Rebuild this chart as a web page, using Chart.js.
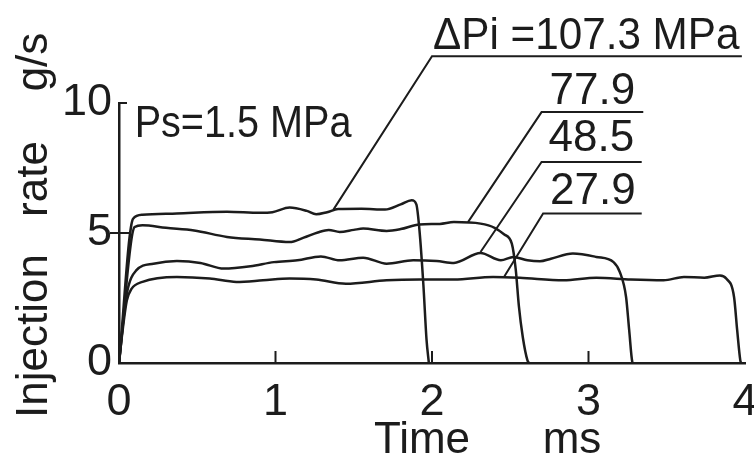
<!DOCTYPE html>
<html>
<head>
<meta charset="utf-8">
<script src="https://cdn.jsdelivr.net/npm/chart.js@4.4.0/dist/chart.umd.min.js"></script>
<style>
  body { margin: 0; background: #fff; }
  #wrap { width: 754px; height: 460px; }
</style>
</head>
<body>
<div id="wrap"><canvas id="rateChart"></canvas></div>
<script>
// injection rate traces (time in ms, rate in g/s)
const timeA = [0, 0.09, 0.15, 0.37, 0.69, 0.9, 0.98, 1.09, 1.2, 1.26, 1.33, 1.4, 1.55, 1.7, 1.8, 1.87, 1.9, 1.92, 1.945, 1.965, 1.98];
const rateA = [0, 5.55, 5.7, 5.75, 5.82, 5.78, 5.8, 5.98, 5.85, 5.72, 5.8, 5.92, 5.93, 5.9, 6.1, 6.26, 6.1, 5.1, 3.0, 0.9, 0];

const timeB = [0, 0.1, 0.15, 0.3, 0.48, 0.69, 0.9, 1.09, 1.18, 1.27, 1.34, 1.41, 1.5, 1.56, 1.71, 1.8, 1.92, 2.05, 2.14, 2.31, 2.4, 2.46, 2.51, 2.535, 2.555, 2.58, 2.61, 2.62];
const rateB = [0, 5.23, 5.3, 5.2, 5.1, 4.85, 4.75, 4.65, 4.82, 5.02, 5.12, 5.04, 5.12, 5.17, 5.08, 5.15, 5.33, 5.35, 5.42, 5.36, 5.2, 4.95, 4.59, 3.6, 2.2, 1.0, 0.1, 0];

const timeC = [0, 0.02, 0.05, 0.11, 0.22, 0.37, 0.52, 0.67, 0.84, 0.99, 1.14, 1.29, 1.41, 1.56, 1.71, 1.88, 2.03, 2.14, 2.31, 2.44, 2.52, 2.61, 2.69, 2.76, 2.9, 3.05, 3.16, 3.2, 3.24, 3.26, 3.28, 3.285];
const rateC = [0, 1.2, 2.67, 3.56, 3.82, 3.92, 3.85, 3.63, 3.72, 3.88, 3.95, 4.1, 3.95, 4.05, 3.82, 3.95, 3.92, 3.85, 4.23, 3.95, 4.08, 3.95, 3.91, 4.01, 4.21, 4.08, 3.88, 3.5, 2.54, 1.26, 0.04, 0];

const timeD = [0, 0.02, 0.05, 0.08, 0.15, 0.37, 0.58, 0.75, 0.92, 1.09, 1.26, 1.45, 1.71, 1.92, 2.14, 2.39, 2.56, 2.84, 3.05, 3.27, 3.48, 3.61, 3.74, 3.84, 3.88, 3.93, 3.95, 3.97, 3.975];
const rateD = [0, 1.1, 2.4, 2.85, 3.12, 3.31, 3.25, 3.12, 3.18, 3.25, 3.21, 3.05, 3.18, 3.21, 3.21, 3.31, 3.28, 3.18, 3.28, 3.21, 3.18, 3.31, 3.28, 3.37, 3.25, 2.54, 1.26, 0.1, 0];

const seriesNames = ['ΔPi =107.3 MPa', '77.9', '48.5', '27.9'];
const xTicks = [0, 1, 2, 3, 4];
const yTicks = [0, 5, 10];

// callouts: underline level / span and where the leader meets the trace (data units)
const callouts = [
  { text: seriesNames[0], level: 11.8, from: 2.0, to: 3.98, t: 1.37, r: 5.9, dx: 1, gap: 7, sx: 0.96 },
  { text: seriesNames[1], level: 9.65, from: 2.7, to: 3.35, t: 2.23, r: 5.42, dx: 8, gap: 8, sx: 1 },
  { text: seriesNames[2], level: 7.73, from: 2.7, to: 3.34, t: 2.31, r: 4.27, dx: 7, gap: 11, sx: 1 },
  { text: seriesNames[3], level: 5.75, from: 2.71, to: 3.34, t: 2.46, r: 3.31, dx: 7, gap: 10, sx: 1 }
];

const ink = '#1c1c1c';
const font = 'Liberation Sans, Arial, sans-serif';

function points(ts, rs) {
  return ts.map((t, i) => ({ x: t, y: rs[i] }));
}

const extras = {
  id: 'extras',
  afterDraw(chart) {
    const ctx = chart.ctx;
    const xs = chart.scales.x;
    const ys = chart.scales.y;
    const area = chart.chartArea;
    ctx.save();
    ctx.strokeStyle = ink;
    ctx.fillStyle = ink;
    ctx.lineWidth = 2;

    // little tick marks
    ctx.beginPath();
    [1, 2, 3].forEach(v => {
      const px = xs.getPixelForValue(v);
      ctx.moveTo(px, area.bottom);
      ctx.lineTo(px, area.bottom - 12);
    });
    let py = ys.getPixelForValue(5);
    ctx.moveTo(area.left - 9, py);
    ctx.lineTo(area.left + 12, py);
    py = ys.getPixelForValue(10);
    ctx.moveTo(area.left, py);
    ctx.lineTo(area.left + 8, py);
    ctx.stroke();

    // callouts
    ctx.font = '44px ' + font;
    ctx.textAlign = 'left';
    ctx.textBaseline = 'alphabetic';
    callouts.forEach(c => {
      const x0 = xs.getPixelForValue(c.from);
      const x1 = xs.getPixelForValue(c.to);
      const yl = ys.getPixelForValue(c.level);
      ctx.beginPath();
      ctx.moveTo(xs.getPixelForValue(c.t), ys.getPixelForValue(c.r));
      ctx.lineTo(x0, yl);
      ctx.lineTo(x1, yl);
      ctx.stroke();
      ctx.save();
      ctx.translate(x0 + c.dx, yl - c.gap);
      ctx.scale(c.sx, 1);
      ctx.fillText(c.text, 0, 0);
      ctx.restore();
    });

    // supply pressure note
    ctx.save();
    ctx.translate(xs.getPixelForValue(0.1), ys.getPixelForValue(8.68));
    ctx.scale(0.9, 1);
    ctx.fillText('Ps=1.5 MPa', 0, 0);
    ctx.restore();

    // axis titles
    ctx.textAlign = 'center';
    ctx.fillText('Time', 422, 453);
    ctx.fillText('ms', 572, 453);
    ctx.save();
    ctx.translate(47, 0);
    ctx.rotate(-Math.PI / 2);
    ctx.fillText('Injection', -336, 0);
    ctx.fillText('rate', -179, 0);
    ctx.fillText('g/s', -62, 0);
    ctx.restore();

    ctx.restore();
  }
};

const lineStyle = {
  borderColor: ink,
  borderWidth: 2.5,
  pointRadius: 0,
  fill: false,
  cubicInterpolationMode: 'monotone'
};

new Chart(document.getElementById('rateChart'), {
  type: 'line',
  data: {
    datasets: [
      Object.assign({ label: seriesNames[0], data: points(timeA, rateA) }, lineStyle),
      Object.assign({ label: seriesNames[1], data: points(timeB, rateB) }, lineStyle),
      Object.assign({ label: seriesNames[2], data: points(timeC, rateC) }, lineStyle),
      Object.assign({ label: seriesNames[3], data: points(timeD, rateD) }, lineStyle)
    ]
  },
  options: {
    responsive: true,
    maintainAspectRatio: false,
    animation: false,
    devicePixelRatio: 1,
    layout: { padding: { top: 103, right: 9, left: 0, bottom: 0 } },
    plugins: { legend: { display: false }, tooltip: { enabled: false } },
    scales: {
      x: {
        type: 'linear',
        min: 0,
        max: 4,
        afterBuildTicks: s => { s.ticks = xTicks.map(v => ({ value: v })); },
        afterFit: s => { s.height = 97; s.paddingLeft = 0; s.paddingRight = 0; },
        ticks: { color: ink, font: { family: font, size: 45 }, padding: 13, maxRotation: 0 },
        grid: { display: false, drawTicks: false },
        border: { display: true, color: ink, width: 2.5 }
      },
      y: {
        min: 0,
        max: 10,
        afterBuildTicks: s => { s.ticks = yTicks.map(v => ({ value: v })); },
        afterFit: s => { s.width = 119; s.paddingTop = 0; s.paddingBottom = 0; },
        ticks: { color: ink, font: { family: font, size: 45 }, padding: 7 },
        grid: { display: false, drawTicks: false },
        border: { display: true, color: ink, width: 2.5 }
      }
    }
  },
  plugins: [extras]
});
</script>
</body>
</html>
